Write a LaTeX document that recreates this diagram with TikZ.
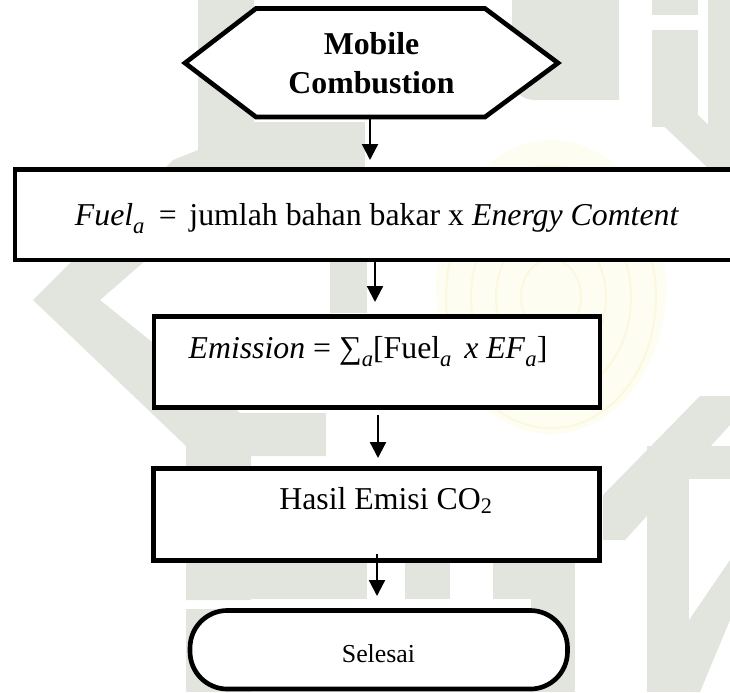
\documentclass[tikz,border=0pt]{standalone}
\usepackage{fontspec}
\setmainfont{Liberation Serif}
\usetikzlibrary{arrows.meta}
\definecolor{wmgray}{RGB}{225,229,222}
\definecolor{wmyellow}{RGB}{254,253,241}
\definecolor{wmring}{RGB}{251,248,222}
\newcommand{\mainsize}{\fontsize{23.85pt}{28.5pt}\selectfont}
\newcommand{\termsize}{\fontsize{19.4pt}{23pt}\selectfont}
\newcommand{\sbs}[1]{\raisebox{-0.28em}{\fontsize{17pt}{17pt}\selectfont\itshape #1}}
\begin{document}
\begin{tikzpicture}[x=0.75pt,y=-0.75pt,
  outline/.style={draw=black, line width=3.5pt, fill=white},
  box/.style={outline, rectangle, inner sep=0pt},
  terminal/.style={outline, rectangle, rounded corners=28pt, inner sep=0pt},
  flow/.style={line width=1.7pt, -{Triangle[width=12pt,length=12pt]}},
  txt/.style={inner sep=0pt, anchor=base, font=\mainsize},
]
\useasboundingbox (0,0) rectangle (730,692);

% faint background emblem
\begin{scope}
  \fill[wmgray] (198,0) rectangle (254,170);
  \fill[wmgray] (254,122) rectangle (365,170);
  \fill[wmgray] (198,150) -- (173,160) -- (33,300) -- (186,446) -- (186,600)
    -- (251,600) -- (251,456) -- (326,456) -- (326,413) -- (240,413)
    -- (100,300) -- (198,215) -- cycle;
  \fill[wmgray] (186,609) rectangle (251,692);
  \fill[wmgray] (330,262) rectangle (367,313);
  \fill[wmgray] (251,563) rectangle (367,599);
  \fill[wmgray] (405,563) rectangle (450,599);
  \fill[wmgray] (493,563) rectangle (531,599);
  \fill[wmgray] (531,500) rectangle (575,692);
  \fill[wmgray] (512,0) -- (619,0) -- (619,100) -- (534,100)
    arc[start angle=90, end angle=180, radius=22] -- cycle;
  \fill[wmgray] (652,0) rectangle (698,15);
  \fill[wmgray] (652,30) rectangle (698,127);
  \fill[wmgray] (708,0) rectangle (730,160);
  \fill[wmgray] (652,115) -- (698,115) -- (730,145) -- (730,168) -- (708,168) -- cycle;
  \fill[wmgray] (647,446) rectangle (730,479);
  \fill[wmgray] (647,479) rectangle (689,692);
  \fill[wmgray] (700,396) -- (730,396) -- (730,425) -- (625,540) -- (603,540) -- (603,495) -- cycle;
  \fill[wmgray] (730,560) -- (730,620) -- (700,692) -- (689,692) -- (689,620) -- cycle;
  \fill[wmyellow] (551,287) ellipse[x radius=115, y radius=147];
  \foreach \r in {30,55,80,105}
    \draw[wmring, line width=1.5pt] (551,297) ellipse[x radius=\r, y radius=1.25*\r];
\end{scope}

% start: hexagon
\draw[outline, line join=miter] (185,63) -- (256,8.5) -- (485,8.5) -- (558,63)
  -- (485,117) -- (256,117) -- cycle;
\node[txt, font=\mainsize\bfseries] (title1) at (371.5,55) {Mobile};
\node[txt, font=\mainsize\bfseries] (title2) at (371.5,93) {Combustion};

% process boxes
\node[box, minimum width=558.75pt, minimum height=67.875pt] (fuel) at (387.5,214.75) {};
\node[box, minimum width=334.5pt, minimum height=68.25pt] (emis) at (377,362) {};
\node[box, minimum width=334.5pt, minimum height=69pt] (hasil) at (376.5,514.5) {};
\node[terminal, minimum width=283.1pt, minimum height=58.9pt] (stop) at (378.75,649.75) {};

\node[txt] (fueltxt) at (377,225)
  {\textit{Fuel}\sbs{a}\hspace{0.2em} =\hspace{0.15em} jumlah bahan bakar x \textit{Energy Comtent}};
\node[txt] (emistxt) at (368,358)
  {\textit{Emission} = ∑\sbs{a}[Fuel\sbs{a}\hspace{0.15em} \textit{x} \textit{EF}\sbs{a}]};
\node[txt] (hasiltxt) at (386,509) {Hasil Emisi CO\textsubscript{2}};
\node[txt, font=\termsize] (stoptxt) at (378.5,662) {Selesai};

% connectors
\coordinate (a1s) at (370,119);
\coordinate (a1e) at (370,160);
\coordinate (a2s) at (375,262);
\coordinate (a2e) at (375,302);
\coordinate (a3s) at (378,415);
\coordinate (a3e) at (378,458);
\coordinate (a4s) at (377,554);
\coordinate (a4e) at (377,596);
\draw[flow] (a1s) -- (a1e);
\draw[flow] (a2s) -- (a2e);
\draw[flow] (a3s) -- (a3e);
\draw[flow] (a4s) -- (a4e);
\end{tikzpicture}
\end{document}
